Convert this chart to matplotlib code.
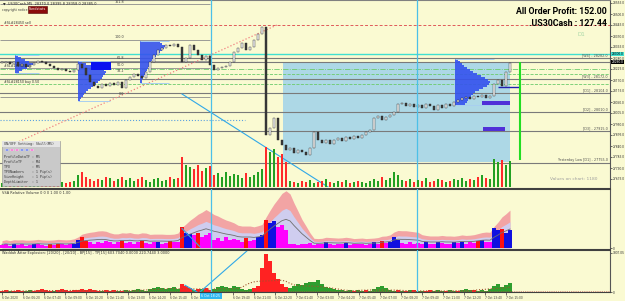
# US30Cash M5 screenshot - price, VSA volume and Waddah Attar panels

import numpy as np
import pandas as pd
import matplotlib
matplotlib.use('Agg')
import matplotlib.pyplot as plt
from matplotlib.patches import Rectangle, Circle

# closes, one every 4 px of the screenshot
closes = [28255, 28260, 28250, 28260, 28240, 28250, 28235, 28245, 28255, 28265,
          28260, 28250, 28240, 28230, 28220, 28225, 28215, 28210, 28220, 28250,
          28230, 28195, 28160, 28140, 28130, 28150, 28140, 28155, 28145, 28160,
          28130, 28170, 28185, 28200, 28190, 28180, 28210, 28260, 28295, 28320,
          28330, 28345, 28340, 28350, 28335, 28260, 28280, 28345, 28320, 28295,
          28270, 28290, 28245, 28220, 28230, 28235, 28240, 28260, 28310, 28330,
          28355, 28320, 28335, 28370, 28400, 28435, 27895, 27930, 27980, 27870,
          27845, 27820, 27830, 27805, 27820, 27810, 27795, 27830, 27910, 27870,
          27855, 27870, 27850, 27870, 27880, 27865, 27885, 27875, 27890, 27880,
          27895, 27910, 27920, 27980, 27990, 27970, 27985, 27995, 28010, 28050,
          28055, 28040, 28050, 28035, 28045, 28030, 28050, 28040, 28020, 28045,
          28030, 28050, 28040, 28060, 28070, 28080, 28085, 28075, 28090, 28085,
          28095, 28080, 28090, 28150, 28170, 28140, 28210, 28255]

volumes = [4, 5, 3, 6, 4, 5, 3, 4, 6, 5, 4, 3, 5, 4, 6, 5, 4, 5, 6,
           12, 15, 10, 8,
           6, 8, 7, 10, 9, 6, 8, 10, 7, 9, 6, 8, 10, 7, 5, 8, 9, 6, 7, 10, 8, 9,
           30, 22,
           20, 18, 22, 16, 19, 21,
           12, 14, 10, 15, 11, 13, 12, 9, 14, 10, 12, 15,
           18,
           40, 35, 38, 30, 33, 25,
           6, 5, 4, 6, 5, 7, 4, 5, 6, 8, 5, 4, 6, 5, 7, 4, 5, 6, 5, 4, 6,
           8, 6, 10, 7, 9, 15, 12,
           7, 6, 8, 5, 7, 6, 9, 5, 6, 8, 7, 5, 6, 8, 7, 9, 6, 8, 7, 10, 12, 9, 8,
           28, 25, 27, 22, 26]

# waddah attar histogram (+ green, - red)
wae = [-1, -2, 1, -1, -2, -1, 1, 2, -1, -2, -3, -2, -1, 1, -2, -3, -2, -1, -2,
       -2, -3, -2, -3, -2, -1, 1, -2, -1, -2, 1, -1,
       2, 1, 2, 3, 2, 1, 3, 4, 5, 4, 3, 4, 5, 3,
       -8, -6, -4,
       2, -3, 3, -4, -2,
       3, 5, 6, 5, 4, 6, 5, 3,
       2, 3, -4, -6,
       -25, -40, -32, -20, -14, -8, -5,
       4, 6, 8, 7, 9, 11, 10, 13, 8,
       5, 4, 3, 2,
       2, 1, 2, -1, 2, 1, -2, 1,
       3, 5, 6, 4, 2, 1,
       -2, 1, -1, 2, -2, 1, 1, -1, -2, 1, 2, 1, -1, 2, 1, -1, 2, 3, 2, -2, 1, 2, 1,
       3, 6, 8, 5, 7, 9]

time_labels = ['6 Oct 2020', '6 Oct 06:20', '6 Oct 07:40', '6 Oct 09:00', '6 Oct 10:20',
               '6 Oct 11:40', '6 Oct 13:00', '6 Oct 14:20', '6 Oct 15:40', '6 Oct 17:00',
               '', '6 Oct 19:40', '6 Oct 21:00', '6 Oct 22:20', '7 Oct 01:40',
               '7 Oct 03:00', '7 Oct 04:20', '7 Oct 05:40', '7 Oct 07:00', '7 Oct 08:20',
               '7 Oct 09:40', '7 Oct 11:00', '7 Oct 12:20', '7 Oct 13:40', '7 Oct 15:00']
cursor_time = '6 Oct 18:25'

price_ticks = [28555, 28500, 28445, 28390, 28335, 28280, 28225, 28170, 28115,
               28060, 28005, 27950, 27895, 27840, 27785, 27730, 27675]

grey_levels = [28280, 28260, 28175, 28105, 28010, 27915, 27755]
grey_level_labels = ['[W4] - 28282.0', '', '[W3] - 28172.0', '[D1] - 28104.0',
                     '[D2] - 28010.0', '[D3] - 27915.0', 'Yesterday Low [D1] - 27755.0']
green_levels = [28225, 28200, 28150]
fib_prices = [28548, 28370, 28265, 28230, 28200, 28085]
fib_labels = ['161.8', '100.0', '61.8', '50.0', '38.2', '0.0']
cyan_level = 28300
red_level = 28445
sl_level = 27970

# volume profiles: left bar, top price, row lengths (bars), rows every 10 points
vp1_len = [0.75, 1.5, 2.5, 3.5, 5, 4, 3, 1.75, 1]
vp2_len = [1, 2, 3.5, 5, 6.5, 7, 6.75, 6.25, 6, 5.5, 5, 4.5, 3.75, 3.25, 2.5, 2, 1.5, 1.25, 0.75, 0.5]
vp3_len = [5, 5.5, 6.25, 6, 5.5, 5, 4.5, 4, 3.5, 3, 2.75, 2.5, 2.25, 2, 1.75, 1.5, 1.25, 1, 0.75, 0.5, 0.5]
vp4_len = [0.75, 1.25, 1.75, 2.25, 3, 3.75, 4.5, 5.5, 6.5, 7.5, 8.25, 8.75, 8.5, 8, 7, 6, 5, 4.5, 4, 3.5, 3.25, 3, 2.5]

W, H = 625, 301
BG = '#FAFAD2'
SMALL = ['Roboto', 'DejaVu Sans']
TICK = dict(labelsize=2.3, length=1.5, width=0.5, pad=0.3, colors='#333333')


def box(x0, y0, x1, y1):
    return [x0 / W, 1 - y1 / H, (x1 - x0) / W, (y1 - y0) / H]


def fxy(x, y):
    return x / W, 1 - y / H


fig = plt.figure(figsize=(W / 100, H / 100), dpi=100, facecolor=BG)

n = len(closes)
bars = np.arange(n)
c = np.array(closes, dtype=float)
o = np.r_[c[0], c[:-1]]
up = c >= o
XLIM = (-0.5, 152)

# ---------------- main price panel
ax = fig.add_axes(box(0, 0, 610, 187), facecolor=BG)
ax.set_xlim(*XLIM)
ax.set_ylim(27635, 28570)

ax.add_patch(Rectangle((70.25, 27760), 56.75, 500, color='#ADD8E6', lw=0, zorder=0.5))

ax.hlines(fib_prices, -0.5, 52, color='#8C8C8C', lw=0.6, zorder=1)
for p, t in zip(fib_prices, fib_labels):
    ax.text(30.5, p + 3, t, fontsize=2.4, ha='right', va='bottom', color='#404040')
for p, t in zip(grey_levels, grey_level_labels):
    ax.axhline(p, color='#7A7A7A', lw=0.8, zorder=1)
    ax.text(151.5, p + 3, t, fontsize=2.4, ha='right', va='bottom', color='#505050')
ax.axhline(cyan_level, color='#40E0D0', lw=1.0, zorder=1)
ax.axhline(red_level, color='#E05A5A', lw=0.7, ls=(0, (3, 2)), zorder=1)
ax.axhline(green_levels[0], color='#6CCB6C', lw=0.6, ls='-.', zorder=1)
ax.axhline(green_levels[1], color='#6CCB6C', lw=0.6, ls='--', zorder=1)
ax.axhline(green_levels[2], color='#6CCB6C', lw=0.6, ls='--', zorder=1)
ax.hlines(sl_level, -0.5, 60.75, color='#5AA0E0', lw=0.8, ls=':', zorder=1)

ax.plot([1.25, 68.75], [27835, 28445], color='#F08080', ls=':', lw=0.9, zorder=1)
ax.plot([45, 81.5], [28100, 27635], color='#30A8E8', lw=0.8, zorder=1)

for left, top, lens in [(3.25, 28290, vp1_len), (19, 28260, vp2_len),
                        (34.5, 28360, vp3_len), (113.25, 28270, vp4_len)]:
    lens = np.array(lens)
    rows = top - 10 * np.arange(len(lens))
    ax.hlines(rows, left, left + lens, color='#3553EE', lw=1.3, zorder=2)
    ax.hlines([rows[0] + 5, rows[-1] - 5], left, left + lens.max() + 1,
              color='#A8CFF0', lw=0.7, zorder=2)

ax.add_patch(Rectangle((22.25, 28220), 5, 40, color='#0A12F0', lw=0, zorder=2))
ax.add_patch(Rectangle((120, 28045), 7, 20, color='#5030D8', lw=0, zorder=3))
ax.add_patch(Rectangle((120.25, 27915), 5.5, 20, color='#5030D8', lw=0, zorder=3))
ax.hlines(28135, 124, 129.5, color='#2020B0', lw=1.0, zorder=3)
ax.vlines(129.5, 27770, 28260, color='#22DD22', lw=1.5, zorder=3)

body = np.maximum(np.abs(c - o), 4)
ax.bar(bars, body, bottom=np.minimum(c, o), width=0.42,
       color=np.where(up, '#F4F4F4', '#3A3A3A'), edgecolor='#2A2A2A', lw=0.3, zorder=4)

ax.yaxis.tick_right()
ax.set_yticks(price_ticks)
ax.set_yticklabels([f'{p:.1f}' for p in price_ticks], family=SMALL)
ax.tick_params(axis='y', **TICK)
ax.set_xticks([])
for s in ['left', 'bottom']:
    ax.spines[s].set_visible(False)
ax.spines['top'].set_color('#808080')
ax.spines['right'].set_color('#555555')
ax.spines['right'].set_linewidth(0.8)

# volume inside the price panel
axv = fig.add_axes(box(0, 140, 610, 187))
axv.patch.set_visible(False)
axv.bar(bars, volumes, width=0.7, color=np.where(up, '#22A022', '#FF2A2A'), lw=0)
axv.set_xlim(*XLIM)
axv.set_ylim(0, 47)
axv.axis('off')

# ---------------- VSA relative volume
vol = pd.Series(volumes, dtype=float)
avg = vol.rolling(7, min_periods=1).mean()
ax2 = fig.add_axes(box(0, 189, 610, 248), facecolor=BG)
ax2.fill_between(bars, 0, avg * 2.6, color='#F2A4A4', lw=0)
ax2.fill_between(bars, 0, avg * 1.8, color='#CFCDEF', lw=0)
col2 = np.where(vol > avg * 1.15, np.where(up, '#1010E0', '#FF1010'), '#FF00FF')
ax2.bar(bars, volumes, width=0.8, color=col2, lw=0)
ax2.plot(bars, avg * 1.3, color='#6E6E6E', lw=0.6)
ax2.plot([45, 49.5], [0.33, 0.02], color='#30A8E8', lw=0.8, transform=ax2.get_xaxis_transform())
ax2.set_xlim(*XLIM)
ax2.set_ylim(0, float((avg * 2.6).max()) * 1.03)
ax2.yaxis.tick_right()
ax2.set_yticks([0])
ax2.set_yticklabels(['0'], family=SMALL)
ax2.tick_params(axis='y', **TICK)
ax2.set_xticks([])
ax2.text(0.004, 0.97, 'VSA Relative Volume 0 0 0 1.00 0 1.00', transform=ax2.transAxes,
         fontsize=2.5, va='top', color='#303030')

# ---------------- Waddah Attar Explosion
w = np.array(wae, dtype=float)
ax3 = fig.add_axes(box(0, 250, 610, 292), facecolor=BG)
ax3.bar(bars, np.abs(w), width=0.8, color=np.where(w > 0, '#2E9E2E', '#FF2222'), lw=0)
expl = pd.Series(np.abs(w)).rolling(11, center=True, min_periods=1).mean() * 0.8
ax3.plot(bars, expl, color='#A0522D', ls=':', lw=0.8)
ax3.axhline(1.2, color='#C04040', ls=':', lw=0.5)
ax3.plot([45.75, 48.75], [0.16, 0.0], color='#30A8E8', lw=0.8, transform=ax3.get_xaxis_transform())
ax3.plot([49.5, 61.5], [0.0, 1.0], color='#30A8E8', lw=0.8, transform=ax3.get_xaxis_transform())
ax3.set_xlim(*XLIM)
ax3.set_ylim(0, 44)
ax3.yaxis.tick_right()
ax3.set_yticks([0, 41])
ax3.set_yticklabels(['0', '3807.05'], family=SMALL)
ax3.tick_params(axis='y', **TICK)
ax3.set_xticks([5.25 * k for k in range(len(time_labels))])
ax3.set_xticklabels(time_labels)
ax3.tick_params(axis='x', labelsize=2.1, length=2, width=0.5, pad=1, colors='#333333')
plt.setp(ax3.get_xticklabels(), ha='left')
ax3.text(0.004, 0.97, 'Waddah Attar Explosion: [20/20] - [20/20] - BP[15] - TP[15] 603.7040 0.0000 220.7440 3.0000',
         transform=ax3.transAxes, fontsize=2.5, va='top', color='#303030')

for a in (ax2, ax3):
    a.spines['left'].set_visible(False)
    a.spines['top'].set_color('#404040')
    a.spines['top'].set_linewidth(1.5)
    a.spines['right'].set_color('#555555')
    a.spines['right'].set_linewidth(0.8)
ax2.spines['bottom'].set_visible(False)
ax3.spines['bottom'].set_color('#404040')

for a in (ax, ax2, ax3):
    a.axvline(52.25, color='#4CC0E8', lw=0.9, zorder=5)
    a.axvline(103.75, color='#4CC0E8', lw=0.9, zorder=5)

# ---------------- texts and widgets
fig.text(*fxy(3, 4), '\u25bc .US30Cash,M5  28370.0 28395.8 28358.0 28385.0',
         fontsize=2.5, va='center', color='#202020')
fig.text(*fxy(2, 9.5), 'copyright notice', fontsize=2.3, va='center', color='#404040')
fig.text(*fxy(29, 9.5), 'Fundstats', fontsize=2.5, va='center', color='white',
         bbox=dict(fc='#8B0A0A', ec='#500000', pad=0.8, lw=0.4))
fig.text(*fxy(4, 23), '#SL#28450 sell', fontsize=2.3, va='center', color='#303030')
fig.text(*fxy(4, 66), '#SL#28230 buy', fontsize=2.3, va='center', color='#303030')
fig.text(*fxy(4, 82), '#SL#28150 buy 0.50', fontsize=2.3, va='center', color='#303030')

big = dict(ha='right', va='center', fontsize=6.3, fontweight='bold',
           family=['Roboto', 'DejaVu Sans'], color='black')
fig.text(*fxy(607, 12), 'All Order Profit: 152.00', **big)
fig.text(*fxy(607, 23), '.US30Cash : 127.44', **big)
fig.text(*fxy(578, 35), 'D1', fontsize=4, va='center', color='#A8D8A8')
fig.text(*fxy(597, 179), 'Values on chart: 1180', fontsize=3.2, ha='right', va='center', color='#A0A0A0')

fig.text(*fxy(611.5, 54), '28300.0', fontsize=2.3, va='center', color='black', family=SMALL,
         bbox=dict(fc='#40E0D0', ec='none', pad=0.3))
fig.text(*fxy(611.5, 62), '28260.0', fontsize=2.3, va='center', color='white', family=SMALL,
         bbox=dict(fc='black', ec='none', pad=0.3))
fig.text(*fxy(211, 296), cursor_time, fontsize=2.3, ha='center', va='center', color='white',
         bbox=dict(fc='#30B8F0', ec='none', pad=0.8), zorder=10)

# settings panel
fig.patches.append(Rectangle(fxy(2, 186), 58 / W, 45 / H, transform=fig.transFigure,
                             fc='#C9C9C9', ec='#909090', lw=0.4, zorder=6))
fig.patches.append(Rectangle(fxy(2, 147), 58 / W, 6 / H, transform=fig.transFigure,
                             fc='#E4E4E4', ec='none', zorder=6))
fig.text(*fxy(4, 144), 'ON/OFF Setting: Skill(M5)', fontsize=2.4, va='center',
         family='DejaVu Sans Mono', color='#303030', zorder=7)
for k, col in enumerate(['#2040F0', '#FF20C0', '#FF20C0', '#2040F0', '#2040F0', '#FF20C0']):
    fig.patches.append(Circle(fxy(7 + 5 * k, 150), 1.8 / W, transform=fig.transFigure,
                              fc=col, ec='white', lw=0.3, zorder=7))
rows = ['ProfileDataTF : M5', 'ProfileTF     : M4', 'TPO           : M5',
        'TPONumbers    : 1 Pip(s)', 'SizeHeight    : 1 Pip(s)', 'DepthLimiter  : 1']
for k, t in enumerate(rows):
    fig.text(*fxy(4, 157 + 5 * k), t, fontsize=2.3, va='center',
             family='DejaVu Sans Mono', color='#303030', zorder=7)

fig.savefig('out.png', dpi=100, facecolor=BG)
